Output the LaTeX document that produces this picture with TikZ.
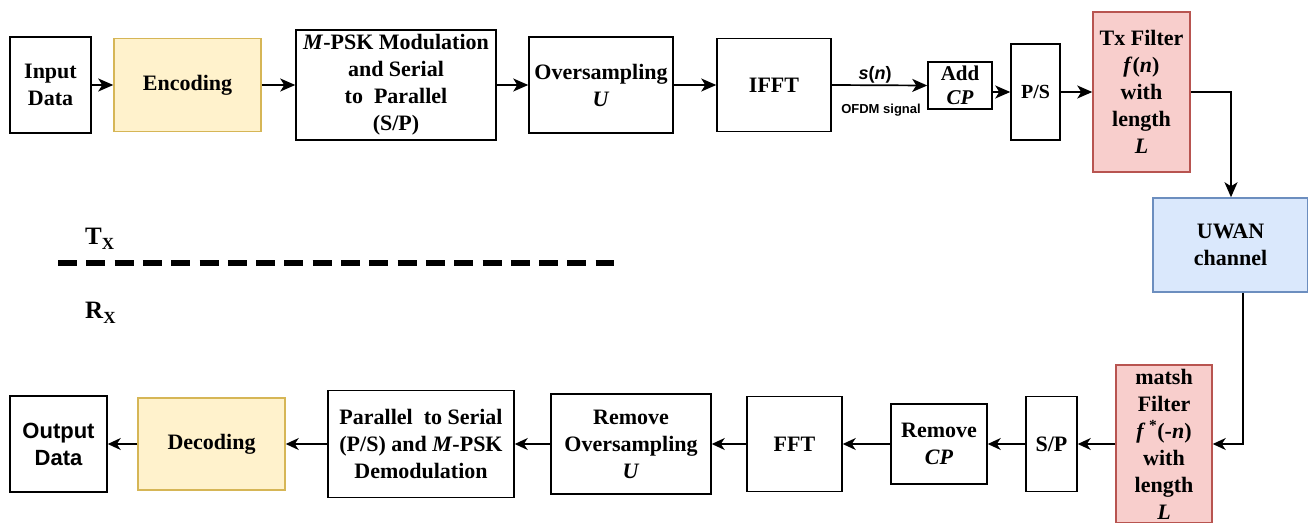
\documentclass[tikz,border=0pt]{standalone}
\usepackage{fontspec}
\setmainfont{Liberation Serif}
\newfontfamily\hvfont{Liberation Sans}
\usetikzlibrary{arrows.meta,calc}
\definecolor{encfill}{HTML}{FFF2CC}
\definecolor{encdraw}{HTML}{D6B656}
\definecolor{redfill}{HTML}{F8CECC}
\definecolor{reddraw}{HTML}{B85450}
\definecolor{bluefill}{HTML}{DAE8FC}
\definecolor{bluedraw}{HTML}{6C8EBF}
\tikzset{
  blk/.style={draw=black, line width=1.5pt, inner sep=0pt, align=center,
    font=\fontsize{22}{27}\selectfont\bfseries},
  yel/.style={blk, fill=encfill, draw=encdraw},
  red/.style={blk, fill=redfill, draw=reddraw},
  blu/.style={blk, fill=bluefill, draw=bluedraw},
  arT/.style={line width=1.7pt, -{Stealth[length=15pt,width=13pt,inset=4pt]}},
  arB/.style={line width=1.4pt, -{Stealth[length=13pt,width=12pt,inset=4pt]}},
}
\begin{document}
\begin{tikzpicture}[x=1pt,y=-1pt]
\useasboundingbox (0,0) rectangle (1308,522);
\clip (0,0) rectangle (1308,522);
\fill[white] (0,0) rectangle (1308,522);
% top row
\node[blk, minimum width=81pt, minimum height=96pt] (in) at (50.5,85) {Input\\Data};
\node[yel, minimum width=147pt, minimum height=93pt] (enc) at (187.5,85) {Encoding};
\node[blk, minimum width=200pt, minimum height=110pt] (mpsk) at (396,85) {\textit{M}-PSK Modulation\\and Serial\\to\ \ Parallel\\(S/P)};
\node[blk, minimum width=144pt, minimum height=96pt] (over) at (601,85) {Oversampling\\\textit{U}};
\node[blk, minimum width=114pt, minimum height=93pt] (ifft) at (774,85) {IFFT};
\node[blk, minimum width=64pt, minimum height=47pt, font=\fontsize{21}{24}\selectfont\bfseries] (addcp) at (960,85.5) {Add\\\textit{CP}};
\node[blk, minimum width=49pt, minimum height=96pt, font=\fontsize{20}{24}\selectfont\bfseries] (ps) at (1035.5,92) {P/S};
\node[red, minimum width=97pt, minimum height=160pt] (tx) at (1141.5,92) {Tx Filter\\\textit{f}(\textit{n})\\with\\length\\\textit{L}};
\node[blu, minimum width=155pt, minimum height=94pt] (uwan) at (1230.5,245) {UWAN\\channel};
% bottom row
\node[red, minimum width=96pt, minimum height=158pt] (mf) at (1164,444) {matsh\\Filter\\\textit{f}\,\textsuperscript{*}(-\textit{n})\\with\\length\\\textit{L}};
\node[blk, minimum width=51pt, minimum height=95pt] (sp) at (1051.5,444) {S/P};
\node[blk, minimum width=96pt, minimum height=80pt] (rcp) at (939,444) {Remove\\\textit{CP}};
\node[blk, minimum width=95pt, minimum height=95pt] (fft) at (794.5,444) {FFT};
\node[blk, minimum width=160pt, minimum height=100pt] (rover) at (631,444) {Remove\\Oversampling\\\textit{U}};
\node[blk, minimum width=186pt, minimum height=107pt] (par) at (421,444) {Parallel\ \ to Serial\\(P/S) and \textit{M}-PSK\\Demodulation};
\node[yel, minimum width=147pt, minimum height=92pt] (dec) at (211.5,444) {Decoding};
\node[blk, minimum width=97pt, minimum height=96pt, font=\fontsize{22}{27}\selectfont\hvfont\bfseries] (out) at (58.5,444) {Output\\Data};
% Tx / Rx
\node[anchor=base west, inner sep=0pt, font=\fontsize{25}{25}\selectfont\bfseries] (txl) at (85,244) {T\raisebox{-5pt}{\fontsize{17}{17}\selectfont X}};
\node[anchor=base west, inner sep=0pt, font=\fontsize{25}{25}\selectfont\bfseries] (rxl) at (85,318) {R\raisebox{-5pt}{\fontsize{17}{17}\selectfont X}};
\coordinate (d1) at (58,263);
\coordinate (d2) at (614,263);
\draw[line width=6pt, dash pattern=on 19pt off 9.3pt] (d1) -- (d2);
% top connectors
\draw[arT] (in.east) -- (enc.west);
\draw[arT] (enc.east) -- (mpsk.west);
\draw[arT] (mpsk.east) -- (over.west);
\draw[arT] (over.east) -- (ifft.west);
\draw[arT] (ifft.east) -- (addcp.west);
\node[font=\fontsize{18}{18}\selectfont\hvfont\bfseries, inner sep=0pt] (sn) at (875,75) {\textit{s}(\textit{n})};
\node[font=\fontsize{13}{13}\selectfont\hvfont\bfseries, inner sep=0pt] (ofdm) at (881,110) {OFDM signal};
\draw[arT] (ps.west -| addcp.east) -- (ps.west);
\draw[arT] (ps.east) -- (tx.west);
\draw[arT] (tx.east) -| ([xshift=0.5pt]uwan.north);
% bottom connectors
\draw[arB] ([xshift=12.5pt]uwan.south) |- (mf.east);
\draw[arB] (mf.west) -- (sp.east);
\draw[arB] (sp.west) -- (rcp.east);
\draw[arB] (rcp.west) -- (fft.east);
\draw[arB] (fft.west) -- (rover.east);
\draw[arB] (rover.west) -- (par.east);
\draw[arB] (par.west) -- (dec.east);
\draw[arB] (dec.west) -- (out.east);
\end{tikzpicture}
\end{document}
